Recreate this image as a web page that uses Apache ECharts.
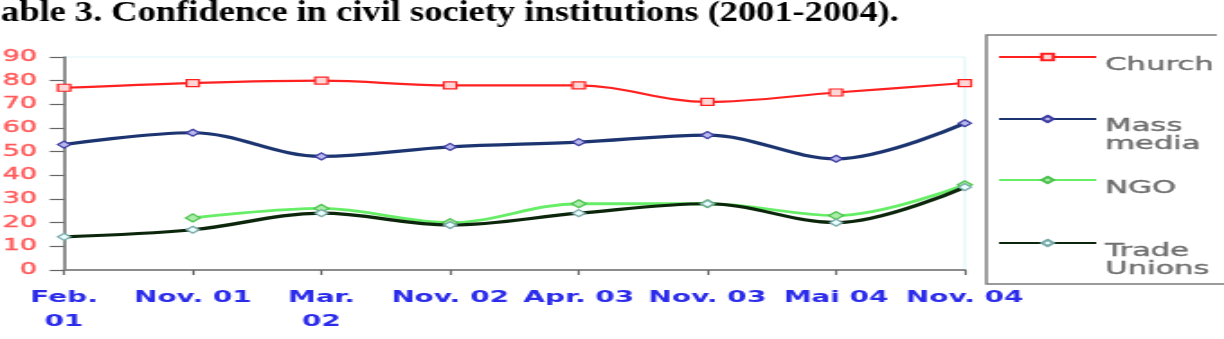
<!DOCTYPE html>
<html>
<head>
<meta charset="utf-8">
<script src="https://cdn.jsdelivr.net/npm/echarts@6/dist/echarts.min.js"></script>
<style>
  html, body { margin: 0; padding: 0; background: #fff; overflow: hidden; }
  /* the source picture is a horizontally stretched chart image */
  #chart { width: 680px; height: 339px; transform: scaleX(1.8); transform-origin: 0 0; }
</style>
</head>
<body>
<div id="chart"></div>
<script>
const CHART_STRETCH = 1.8;
const TITLE_STRETCH = 1.215;

const titleText = 'able 3. Confidence in civil society institutions (2001-2004).';
const periods = ['Feb.\n01', 'Nov. 01', 'Mar.\n02', 'Nov. 02', 'Apr. 03', 'Nov. 03', 'Mai 04', 'Nov. 04'];
const seriesNames = ['Church', 'Mass media', 'NGO', 'Trade Unions'];
const church = [77, 79, 80, 78, 78, 71, 75, 79];
const massMedia = [53, 58, 48, 52, 54, 57, 47, 62];
const ngo = [null, 22, 26, 20, 28, 28, 23, 36];
const tradeUnions = [14, 17, 24, 19, 24, 28, 20, 35];

const chart = echarts.init(document.getElementById('chart'));

function lineSeries(name, data, lineColor, lineWidth, symbol, fill, border, size) {
  return {
    name: name,
    type: 'line',
    data: data,
    smooth: 0.35,
    symbol: symbol,
    symbolSize: size,
    showAllSymbol: true,
    lineStyle: { color: lineColor, width: lineWidth },
    itemStyle: { color: fill, borderColor: border, borderWidth: 1.2 },
    emphasis: { disabled: true }
  };
}

// one legend per entry; an empty spacer line pushes the label below the icon like the original
function legendItem(name, top, spacer, twoLines) {
  return {
    data: [name],
    orient: 'vertical',
    left: 554,
    top: top,
    padding: 0,
    itemWidth: 54,
    itemHeight: 8,
    selectedMode: false,
    formatter: n => {
      const lines = twoLines ? n.split(' ') : [n];
      return '{s| }\n' + lines.map(l => '{t|' + l + '}').join('\n');
    },
    textStyle: {
      rich: {
        s: { lineHeight: spacer, fontSize: 10 },
        t: {
          fontFamily: 'DejaVu Sans',
          fontSize: 17,
          lineHeight: 18,
          color: '#6e6e6e',
          textBorderColor: '#6e6e6e',
          textBorderWidth: 0.4
        }
      }
    }
  };
}

const option = {
  animation: false,
  backgroundColor: '#fff',
  grid: {
    left: 35.6, right: 144, top: 57, bottom: 69,
    show: true, borderColor: '#dcf5f7', borderWidth: 1,
    outerBoundsMode: 'none'
  },
  legend: [
    legendItem('Church', 43, 18, false),
    legendItem('Mass media', 96, 34, true),
    legendItem('NGO', 166, 18, false),
    legendItem('Trade Unions', 220, 36, true)
  ],
  xAxis: {
    type: 'category',
    data: periods,
    boundaryGap: false,
    axisLine: { lineStyle: { color: '#8c8c8c', width: 2 } },
    axisTick: { show: true, length: 5, lineStyle: { color: '#666', width: 1.2 } },
    axisLabel: {
      interval: 0,
      margin: 16,
      fontFamily: 'DejaVu Sans',
      fontWeight: 'bold',
      fontSize: 15.5,
      lineHeight: 24,
      color: '#2b2bea'
    },
    splitLine: { show: false }
  },
  yAxis: {
    type: 'value',
    min: 0,
    max: 90,
    interval: 10,
    axisLine: { show: true, lineStyle: { color: '#767676', width: 1.6 } },
    axisTick: { show: true, length: 8, lineStyle: { color: '#666', width: 1.2 } },
    axisLabel: {
      margin: 15,
      fontFamily: 'DejaVu Sans',
      fontSize: 15,
      color: '#ff5a5a',
      textBorderColor: '#ff5a5a',
      textBorderWidth: 0.4
    },
    splitLine: { show: false }
  },
  graphic: [
    {
      type: 'text',
      x: 0.5,
      y: 13.5,
      scaleX: TITLE_STRETCH / CHART_STRETCH,
      style: {
        text: titleText,
        fontFamily: 'Liberation Serif',
        fontWeight: 'bold',
        fontSize: 30,
        fill: '#000',
        verticalAlign: 'middle'
      }
    },
    {
      type: 'polyline',
      shape: { points: [[676, 35], [548, 35], [548, 284], [680, 284]] },
      style: { stroke: '#7a7a7a', lineWidth: 1.4, fill: null }
    }
  ],
  series: [
    lineSeries(seriesNames[0], church, '#ff2020', 2.2, 'rect', '#ffd6d6', '#ff2020', 7),
    lineSeries(seriesNames[1], massMedia, '#1c3570', 3.2, 'diamond', '#b9b9ee', '#3a3aa0', 7),
    lineSeries(seriesNames[2], ngo, '#66ee66', 2.8, 'diamond', '#a8eea8', '#4cc04c', 8),
    lineSeries(seriesNames[3], tradeUnions, '#0c260c', 3.2, 'diamond', '#eaffff', '#78a8a8', 7)
  ]
};

chart.setOption(option);
</script>
</body>
</html>
